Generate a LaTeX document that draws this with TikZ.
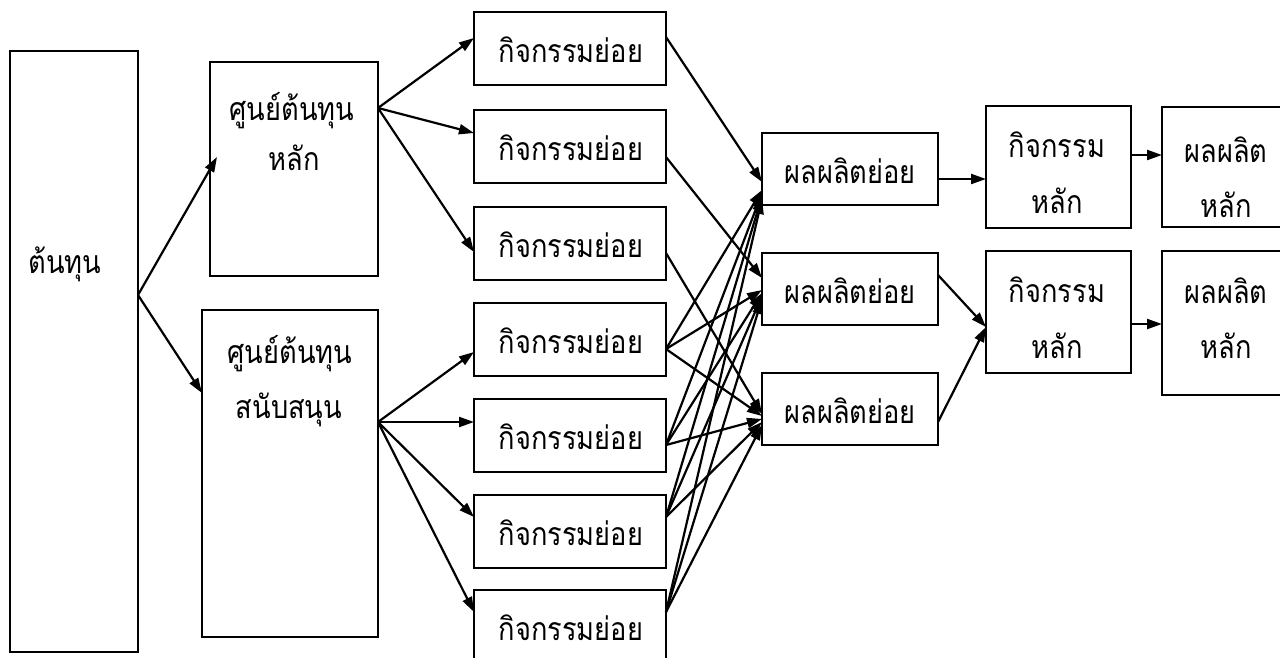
\documentclass[tikz,border=0pt]{standalone}
\usepackage{fontspec}
\newfontfamily\thaifont[Script=Thai,FakeStretch=0.85]{Loma}
\usetikzlibrary{arrows.meta,calc}
\tikzset{
  box/.style={draw, line width=2.2pt, inner sep=0pt, outer sep=0pt, rectangle},
  txt/.style={font=\thaifont\fontsize{32}{38}\selectfont, anchor=base, inner sep=0pt},
  conn/.style={line width=2.2pt, -{Triangle[length=15pt,width=10pt]}}
}
\begin{document}
\begin{tikzpicture}[x=1pt,y=-1pt]
\useasboundingbox (0,0) rectangle (1280,657);
\clip (0,0) rectangle (1280,657);
% boxes
\node[box, minimum width=128pt, minimum height=601pt] (cost) at (74,351.5) {};
\node[box, minimum width=168pt, minimum height=214pt] (cc1) at (294,169) {};
\node[box, minimum width=176pt, minimum height=327pt] (cc2) at (290,473.5) {};
\foreach \i/\y in {1/48.5,2/146.5,3/243.5,4/339.5,5/435.5,6/531.5,7/626.5}{
  \node[box, minimum width=192pt, minimum height=73pt] (act\i) at (570,\y) {};
}
\foreach \i/\y in {1/169,2/289,3/409}{
  \node[box, minimum width=176pt, minimum height=72pt] (sub\i) at (850,\y) {};
}
\node[box, minimum width=145pt, minimum height=122pt] (mact1) at (1058.5,167) {};
\node[box, minimum width=145pt, minimum height=122pt] (mact2) at (1058.5,312) {};
\node[box, minimum width=200pt, minimum height=120pt] (prod1) at (1262,167) {};
\node[box, minimum width=200pt, minimum height=144pt] (prod2) at (1262,323) {};
% texts
\node[txt] (tcost) at (65,273) {ต้นทุน};
\node[txt] (tcc1a) at (292,120) {ศูนย์ต้นทุน};
\node[txt] (tcc1b) at (294,170) {หลัก};
\node[txt] (tcc2a) at (290,363) {ศูนย์ต้นทุน};
\node[txt] (tcc2b) at (289,418) {สนับสนุน};
\foreach \i/\y in {1/62,2/160,3/257,4/353,5/449,6/545,7/640}{
  \node[txt] (tact\i) at (571,\y) {กิจกรรมย่อย};
}
\foreach \i/\y in {1/183,2/303,3/423}{
  \node[txt] (tsub\i) at (850,\y) {ผลผลิตย่อย};
}
\node[txt] (tmact1a) at (1057,157) {กิจกรรม};
\node[txt] (tmact1b) at (1057,213) {หลัก};
\node[txt] (tmact2a) at (1057,302) {กิจกรรม};
\node[txt] (tmact2b) at (1057,358) {หลัก};
\node[txt] (tprod1a) at (1226,162) {ผลผลิต};
\node[txt] (tprod1b) at (1226,217) {หลัก};
\node[txt] (tprod2a) at (1226,303) {ผลผลิต};
\node[txt] (tprod2b) at (1226,358) {หลัก};
% connector points
\coordinate (cs) at (138,295);
\coordinate (cc1in) at (217,157);
\coordinate (cc2in) at (202,393);
\coordinate (cc1out) at (378,108);
\coordinate (cc2out) at (378,422);
\coordinate (ai1) at (474,38);
\coordinate (ai2) at (474,133);
\coordinate (ai3) at (474,252);
\coordinate (ai4) at (474,352);
\coordinate (ai5) at (474,422);
\coordinate (ai6) at (474,517);
\coordinate (ai7) at (474,612);
\coordinate (ao1) at (666,37);
\coordinate (ao2) at (666,157);
\coordinate (ao3) at (666,253);
\coordinate (ao4) at (666,349);
\coordinate (ao5) at (666,445);
\coordinate (ao6) at (666,517);
\coordinate (ao7) at (666,612);
% connectors
\draw[conn] (cs) -- (cc1in);
\draw[conn] (cs) -- (cc2in);
\draw[conn] (cc1out) -- (ai1);
\draw[conn] (cc1out) -- (ai2);
\draw[conn] (cc1out) -- (ai3);
\draw[conn] (cc2out) -- (ai4);
\draw[conn] (cc2out) -- (ai5);
\draw[conn] (cc2out) -- (ai6);
\draw[conn] (cc2out) -- (ai7);
\draw[conn] (ao1) -- ($(sub1.west)+(0,13)$);
\draw[conn] (ao2) -- ($(sub2.west)+(0,-11)$);
\draw[conn] (ao3) -- ($(sub3.west)+(0,5)$);
\foreach \a/\d in {4/0,5/3,6/6,7/9}{
  \draw[conn] (ao\a) -- ($(sub1.west)+(0,21+\d)$);
  \draw[conn] (ao\a) -- ($(sub2.west)+(0,1+\d)$);
  \draw[conn] (ao\a) -- ($(sub3.west)+(0,7+\d)$);
}
\draw[conn] ($(sub1.east)+(0,10)$) -- ($(mact1.west)+(0,12)$);
\draw[conn] ($(sub2.east)+(0,-14)$) -- ($(mact2.west)+(0,15)$);
\draw[conn] ($(sub3.east)+(0,13)$) -- ($(mact2.west)+(0,15)$);
\draw[conn] ($(mact1.east)+(0,-12)$) -- ($(prod1.west)+(0,-12)$);
\draw[conn] ($(mact2.east)+(0,12)$) -- ($(prod2.west)+(0,1)$);
\end{tikzpicture}
\end{document}
